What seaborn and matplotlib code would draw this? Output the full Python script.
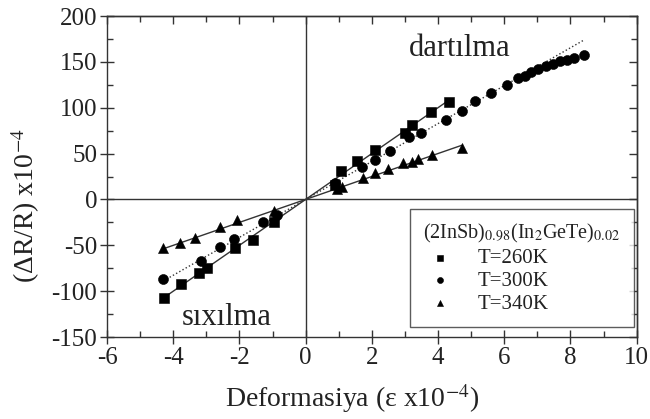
import numpy as np
import pandas as pd
import matplotlib
matplotlib.use("Agg")
import matplotlib.pyplot as plt
import seaborn as sns

# ---- data ----
x_260 = [-4.28, -3.76, -3.21, -2.98, -2.14, -1.58, -0.97, 0.89, 1.06, 1.55, 2.11, 3.00, 3.20, 3.79, 4.33]
y_260 = [-107, -91.8, -80.5, -75.2, -53.4, -43.8, -25, 16, 30.5, 42, 54, 72.8, 81, 95.7, 106.7]

x_300 = [-4.30, -3.17, -2.59, -2.16, -1.29, -0.87, 0.89, 1.69, 2.09, 2.56, 3.13, 3.47, 4.24, 4.71,
         5.11, 5.60, 6.07, 6.41, 6.62, 6.82, 7.02, 7.26, 7.48, 7.69, 7.88, 8.10, 8.40]
y_300 = [-87, -67.6, -51.5, -43, -25, -17, 17.7, 35, 43, 53, 68.5, 72, 86.7, 96.8,
         107, 116, 124.6, 132, 135, 139, 142, 145, 148, 151, 152, 154, 158]

x_340 = [-4.30, -3.80, -3.35, -2.59, -2.08, -0.96, 0.95, 1.09, 1.74, 2.09, 2.48, 2.94, 3.20, 3.40, 3.82, 4.71]
y_340 = [-53.2, -47.1, -41.7, -30.5, -22.4, -12.2, 11, 14, 23, 28.5, 33, 40, 41, 44, 48.5, 56]

labels = ["T=260K", "T=300K", "T=340K"]
markers = ["s", "o", "^"]
sizes = [48, 52, 52]
line_styles = ["-", ":", "-"]
fit_range = [10, 6, 10]   # |x| range used for the straight-line fit

xticks = [-6, -4, -2, 0, 2, 4, 6, 8, 10]
yticks = [-150, -100, -50, 0, 50, 100, 150, 200]

sns.set_theme(style="ticks")
plt.rcParams["font.family"] = ["Liberation Serif", "DejaVu Serif"]
plt.rcParams["mathtext.fontset"] = "stix"

ink = "#222222"
fig = plt.figure(figsize=(6.5, 4.19), dpi=100)
ax = fig.add_axes([107 / 650, 1 - 337 / 419, 529.7 / 650, 321 / 419])

series = [(x_260, y_260), (x_300, y_300), (x_340, y_340)]
for (xs, ys), lab, mk, sz, ls, fr in zip(series, labels, markers, sizes, line_styles, fit_range):
    xs = np.asarray(xs, float)
    ys = np.asarray(ys, float)
    m = np.abs(xs) < fr
    k = np.sum(xs[m] * ys[m]) / np.sum(xs[m] ** 2)   # fit through origin
    lx = np.array([xs.min(), xs.max()])
    sns.lineplot(x=lx, y=k * lx, ax=ax, color="#333333", lw=1.0, linestyle=ls,
                 legend=False, sort=False)
    sns.scatterplot(x=xs, y=ys, ax=ax, marker=mk, color="black", s=sz,
                    edgecolor="black", linewidth=0.4, label=lab, zorder=3)

ax.axhline(0, color="#333333", lw=1.0, zorder=1)
ax.axvline(0, color="#333333", lw=1.0, zorder=1)

ax.set_xlim(-6, 10)
ax.set_ylim(-150, 200)
ax.set_xticks(xticks)
ax.set_yticks(yticks)
ax.set_xticks(np.arange(-6, 10.1, 1), minor=True)
ax.set_yticks(np.arange(-150, 200.1, 25), minor=True)
ax.set_xticklabels([str(t) for t in xticks])
ax.set_yticklabels([str(t) for t in yticks])

for s in ax.spines.values():
    s.set_color("#333333")
    s.set_linewidth(1.0)
ax.tick_params(which="major", direction="inout", length=10, width=1, colors="#333333",
               labelcolor=ink, labelsize=18, pad=2)
ax.tick_params(which="minor", direction="in", length=4, width=1, colors="#333333")

# inward ticks on top and right
sx = ax.secondary_xaxis("top")
sx.set_xticks(xticks)
sx.set_xticks(np.arange(-6, 10.1, 1), minor=True)
sx.tick_params(which="major", direction="in", length=6, width=1, colors="#333333", labeltop=False)
sx.tick_params(which="minor", direction="in", length=4, width=1, colors="#333333")
sy = ax.secondary_yaxis("right")
sy.set_yticks(yticks)
sy.set_yticks(np.arange(-150, 200.1, 25), minor=True)
sy.tick_params(which="major", direction="in", length=6, width=1, colors="#333333", labelright=False)
sy.tick_params(which="minor", direction="in", length=4, width=1, colors="#333333")
for sec in (sx, sy):
    for s in sec.spines.values():
        s.set_color("#333333")
        s.set_linewidth(1.0)

ax.set_xlabel("Deformasiya (ε x10$^{-4}$)", fontsize=20, color=ink, va="top")
ax.xaxis.set_label_coords((352 - 107) / 529.7, (337 - 382) / 321)
ax.set_ylabel("(ΔR/R) x10$^{-4}$", fontsize=20, color=ink)
ax.yaxis.set_label_coords((42 - 107) / 529.7, (337 - 206) / 321)

ax.text(4.66, 165, "dartılma", fontsize=22, color=ink, ha="center", va="center")
ax.text(-2.39, -129, "sıxılma", fontsize=22, color=ink, ha="center", va="center")

leg = ax.legend(title="(2InSb)$_{0.98}$(In$_2$GeTe)$_{0.02}$", loc="lower right",
                bbox_to_anchor=(0.995, 0.031), borderaxespad=0, fontsize=15,
                title_fontsize=14.5, frameon=True, fancybox=False, markerscale=0.6,
                handletextpad=1.0, handlelength=1.6, borderpad=0.65, labelspacing=0.15,
                alignment="left")
leg.get_frame().set_edgecolor("#333333")
leg.get_frame().set_linewidth(1.0)
for t in leg.get_texts():
    t.set_color(ink)
leg.get_title().set_color(ink)

fig.savefig("out.png", dpi=100)
